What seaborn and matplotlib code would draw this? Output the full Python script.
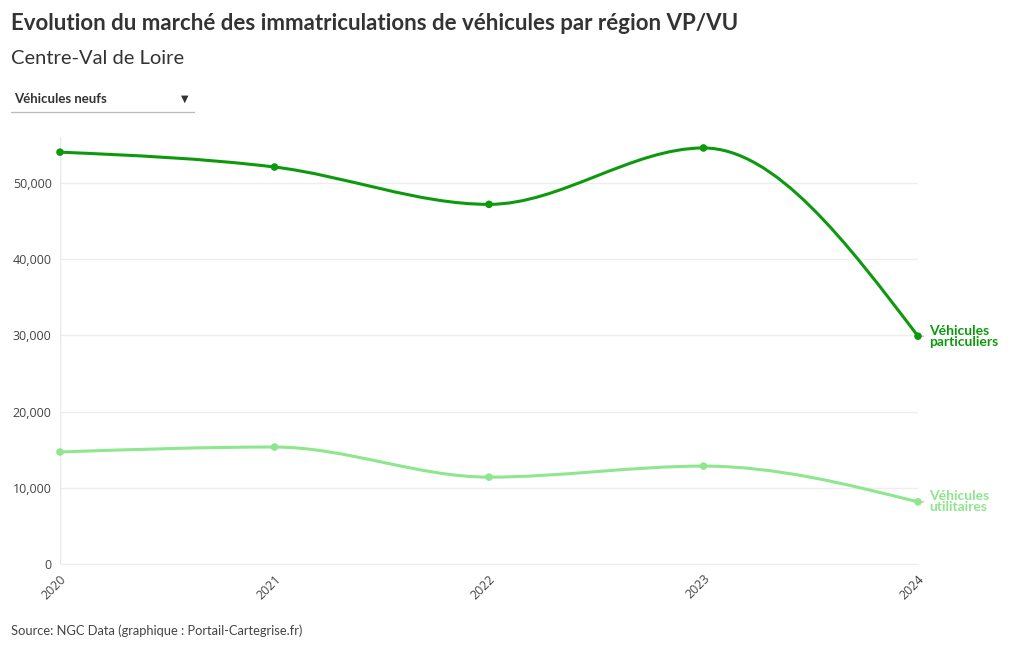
import matplotlib
matplotlib.use("Agg")
import matplotlib.pyplot as plt
from matplotlib.path import Path
from matplotlib.patches import PathPatch
import seaborn as sns
import numpy as np

years = [2020, 2021, 2022, 2023, 2024]
vp_values = [54050, 52100, 47200, 54600, 29900]
vu_values = [14700, 15350, 11400, 12850, 8150]
series_names = ["Véhicules\nparticuliers", "Véhicules\nutilitaires"]
series_colors = ["#0c9a0c", "#8ee68e"]

sns.set_style("white")
plt.rcParams["font.family"] = ["Lato", "DejaVu Sans"]

fig = plt.figure(figsize=(10.2, 6.5), dpi=100)
ax = fig.add_axes([60 / 1020, 1 - 564 / 650, 858 / 1020, (564 - 137.3) / 650])
ax.set_xlim(2020, 2024)
ax.set_ylim(0, 56000)


def monotone_path(xs, ys):
    # monotone cubic curve (same rule as d3.curveMonotoneX)
    x = np.asarray(xs, float)
    y = np.asarray(ys, float)
    n = len(x)
    h = np.diff(x)
    s = np.diff(y) / h
    t = np.zeros(n)
    for i in range(1, n - 1):
        p = (s[i - 1] * h[i] + s[i] * h[i - 1]) / (h[i - 1] + h[i])
        t[i] = (np.sign(s[i - 1]) + np.sign(s[i])) * min(abs(s[i - 1]), abs(s[i]), 0.5 * abs(p))
    t[0] = (3 * s[0] - t[1]) / 2
    t[-1] = (3 * s[-1] - t[-2]) / 2
    verts = [(x[0], y[0])]
    codes = [Path.MOVETO]
    for i in range(n - 1):
        dx = h[i] / 3
        verts += [(x[i] + dx, y[i] + dx * t[i]), (x[i + 1] - dx, y[i + 1] - dx * t[i + 1]),
                  (x[i + 1], y[i + 1])]
        codes += [Path.CURVE4] * 3
    return Path(verts, codes)


for vals, name, col in zip([vp_values, vu_values], series_names, series_colors):
    ax.add_patch(PathPatch(monotone_path(years, vals), fill=False, edgecolor=col,
                           linewidth=2.2, capstyle="round", joinstyle="round", zorder=3))
    sns.scatterplot(x=years, y=vals, color=col, s=30, edgecolor="none", ax=ax,
                    zorder=4, clip_on=False)
    ax.annotate("", xy=(years[-1], vals[-1]), xytext=(6, 0), textcoords="offset points",
                arrowprops=dict(arrowstyle="-", color="#c8a0c8", lw=0.8))
    ax.annotate(name, xy=(years[-1], vals[-1]), xytext=(8, 0), textcoords="offset points",
                ha="left", va="center", color=col, fontsize=10, fontweight="bold",
                linespacing=0.9, annotation_clip=False)

ax.set_xticks(years)
ax.set_xticklabels([str(y) for y in years], rotation=45, ha="right", rotation_mode="anchor",
                   fontsize=9, color="#444444", family=["Open Sans", "DejaVu Sans"])
yt = [0, 10000, 20000, 30000, 40000, 50000]
ax.set_yticks(yt)
ax.set_yticklabels([f"{v:,}" for v in yt], fontsize=9, color="#444444",
                   family=["Open Sans", "DejaVu Sans"])
ax.grid(axis="y", color="#eeeeee", linewidth=1)
ax.axvline(2020, color="#e8e8e8", linewidth=1, zorder=1)
ax.tick_params(axis="x", length=4, color="#dddddd", pad=2)
ax.tick_params(axis="y", length=4, color="#dddddd", pad=2)
for s in ax.spines.values():
    s.set_visible(False)
ax.spines["bottom"].set_visible(True)
ax.spines["bottom"].set_color("#eeeeee")

fig.text(11 / 1020, 1 - 24 / 650, "Evolution du marché des immatriculations de véhicules par région VP/VU",
         fontsize=16, fontweight="bold", color="#333333", va="center", ha="left")
fig.text(11 / 1020, 1 - 58 / 650, "Centre-Val de Loire", fontsize=14.5, color="#333333",
         va="center", ha="left")
fig.text(14 / 1020, 1 - 99 / 650, "Véhicules neufs", fontsize=9.5, fontweight="bold",
         color="#333333", va="center", ha="left")
fig.text(185 / 1020, 1 - 99 / 650, "▼", fontsize=7, color="#333333", va="center", ha="center",
         family=["DejaVu Sans"])
fig.add_artist(plt.Line2D([11 / 1020, 194 / 1020], [1 - 112 / 650, 1 - 112 / 650],
                          color="#bbbbbb", linewidth=0.9))
fig.text(11 / 1020, 1 - 631 / 650, "Source: NGC Data (graphique : Portail-Cartegrise.fr)",
         fontsize=9.3, color="#444444", va="center", ha="left")

fig.savefig("out.png", dpi=100)
